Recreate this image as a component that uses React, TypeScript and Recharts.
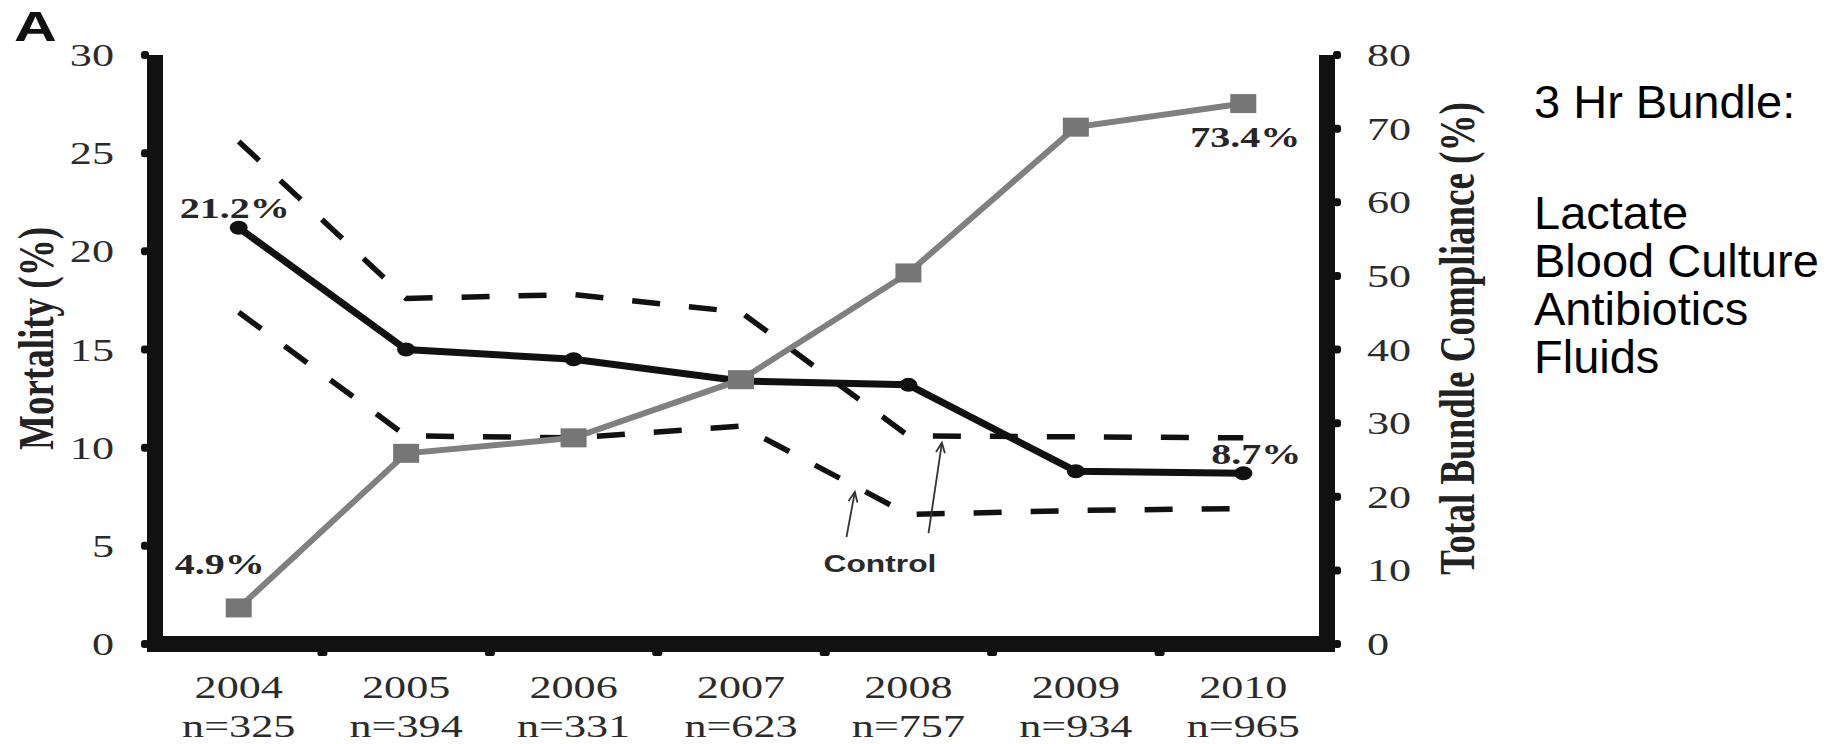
import React from 'react';
import {
  ComposedChart,
  Line,
  XAxis,
  YAxis,
  LabelList,
  ReferenceLine,
  ReferenceDot,
  Label,
} from 'recharts';

// Study years and cohort sizes
const years = [2004, 2005, 2006, 2007, 2008, 2009, 2010];
const sampleSizes = [325, 394, 331, 623, 757, 934, 965];

// Mortality (%) — left axis
const mortality = [21.2, 15.0, 14.5, 13.4, 13.2, 8.8, 8.7];
// Total bundle compliance (%) — right axis
const compliance = [4.9, 25.9, 28.0, 35.9, 50.4, 70.2, 73.4];
// Control band (mortality %, dashed)
const controlUpper = [25.6, 17.6, 17.8, 16.9, 10.6, 10.55, 10.5];
const controlLower = [16.9, 10.6, 10.5, 11.1, 6.6, 6.8, 6.9];

// Axis ticks
const mortalityTicks = [0, 5, 10, 15, 20, 25, 30];
const complianceTicks = [0, 10, 20, 30, 40, 50, 60, 70, 80];
const yearTicks = [2004, 2004.5, 2005, 2005.5, 2006, 2006.5, 2007, 2007.5, 2008, 2008.5, 2009, 2009.5, 2010];

// "Control" annotation arrows (tail -> head, in year / mortality units)
const controlArrows = [
  { from: { x: 2007.63, y: 5.45 }, to: { x: 2007.68, y: 7.75 } },
  { from: { x: 2008.12, y: 5.65 }, to: { x: 2008.2, y: 10.25 } },
];
const controlLabelAt = { x: 2007.83, y: 4.1 };

// Side panel text
const bundleTitle = '3 Hr Bundle:';
const bundleItems = ['Lactate', 'Blood Culture', 'Antibiotics', 'Fluids'];

const table = years.map((year, i) => ({
  year,
  n: sampleSizes[i],
  mortality: mortality[i],
  compliance: compliance[i],
  controlUpper: controlUpper[i],
  controlLower: controlLower[i],
}));

const SERIF = '"Liberation Serif", "Times New Roman", serif';
const SANS = '"Liberation Sans", Arial, sans-serif';
const STRETCH = 1.38;
const INK = '#111';
const TICK_INK = '#2b2b2b';
const GRAY = '#808080';
const GRAY_MARK = '#767676';

const YearTick = (props: any) => {
  const { x, y, payload } = props;
  const v = payload.value;
  if (!Number.isInteger(v)) {
    return <rect x={x - 5} y={y + 6} width={10} height={6} rx={2} fill={INK} />;
  }
  const i = years.indexOf(v);
  return (
    <g transform={`translate(${x},${y}) scale(${STRETCH},1)`}>
      <text textAnchor="middle" fontFamily={SERIF} fontSize={32} fill={TICK_INK}>
        <tspan x={0} y={54}>{v}</tspan>
        <tspan x={0} y={93}>{`n=${sampleSizes[i]}`}</tspan>
      </text>
    </g>
  );
};

const MortTick = (props: any) => {
  const { x, y, payload } = props;
  return (
    <g>
      <rect x={x - 14} y={y - 4} width={8} height={8} rx={3} fill={INK} />
      <text
        transform={`translate(${x - 41},${y + 11}) scale(${STRETCH},1)`}
        textAnchor="end"
        fontFamily={SERIF}
        fontSize={32}
        fill={TICK_INK}
      >
        {payload.value}
      </text>
    </g>
  );
};

const CompTick = (props: any) => {
  const { x, y, payload } = props;
  return (
    <g>
      <rect x={x + 6} y={y - 4} width={8} height={8} rx={3} fill={INK} />
      <text
        transform={`translate(${x + 40},${y + 11}) scale(${STRETCH},1)`}
        textAnchor="start"
        fontFamily={SERIF}
        fontSize={32}
        fill={TICK_INK}
      >
        {payload.value}
      </text>
    </g>
  );
};

const axisTitle = (text: string, baselineDx: number) => (props: any) => {
  const vb = props.viewBox || {};
  const cx = vb.x + baselineDx;
  const cy = vb.y + vb.height / 2 - 11;
  return (
    <text
      transform={`translate(${cx},${cy}) rotate(-90) scale(1,${STRETCH})`}
      textAnchor="middle"
      fontFamily={SERIF}
      fontWeight="bold"
      fontSize={37}
      fill="#222"
    >
      {text}
    </text>
  );
};

const MortDot = (p: any) => (
  <ellipse key={`md-${p.index}`} cx={p.cx} cy={p.cy} rx={9} ry={7} fill={INK} />
);

const CompDot = (p: any) => (
  <rect key={`cd-${p.index}`} x={p.cx - 13} y={p.cy - 9.5} width={26} height={19} fill={GRAY_MARK} />
);

// end-point value labels: [dx, dy] from the point for first and last entries
const endLabel = (first: [number, number], last: [number, number]) => (p: any) => {
  const idx = p.index;
  if (idx !== 0 && idx !== years.length - 1) return null;
  const px = p.x ?? p.viewBox?.x;
  const py = p.y ?? p.viewBox?.y;
  const [dx, dy] = idx === 0 ? first : last;
  return (
    <text
      key={`lb-${idx}`}
      transform={`translate(${px + dx},${py + dy}) scale(${STRETCH},1)`}
      textAnchor="middle"
      fontFamily={SERIF}
      fontWeight="bold"
      fontSize={29}
      fill="#262626"
    >
      {`${Number(p.value).toFixed(1)}%`}
    </text>
  );
};

const ArrowShape = (p: any) => {
  const { x1, y1, x2, y2 } = p;
  const ang = Math.atan2(y2 - y1, x2 - x1);
  const len = 11;
  const spread = 0.42;
  const ax = x2 - len * Math.cos(ang - spread);
  const ay = y2 - len * Math.sin(ang - spread);
  const bx = x2 - len * Math.cos(ang + spread);
  const by = y2 - len * Math.sin(ang + spread);
  return (
    <g>
      <line x1={x1} y1={y1} x2={x2} y2={y2} stroke="#333" strokeWidth={1.8} />
      <polyline points={`${ax},${ay} ${x2},${y2} ${bx},${by}`} fill="none" stroke="#333" strokeWidth={1.8} />
    </g>
  );
};

const ControlText = (p: any) => (
  <text
    transform={`translate(${p.cx},${p.cy + 8}) scale(${STRETCH},1)`}
    textAnchor="middle"
    fontFamily={SANS}
    fontWeight="bold"
    fontSize={23}
    fill="#2a2a2a"
  >
    Control
  </text>
);

const sideLine = (text: string, baseline: number) => (
  <div
    key={text}
    style={{
      position: 'absolute',
      left: 1534,
      top: baseline - 40,
      fontFamily: SANS,
      fontSize: 47,
      lineHeight: '47px',
      color: '#000',
      whiteSpace: 'nowrap',
    }}
  >
    {text}
  </div>
);

export default function App() {
  const itemBaselines = [229, 277, 325, 373];
  return (
    <div style={{ position: 'absolute', left: 0, top: 0, width: 1843, height: 744, background: '#fff', overflow: 'hidden' }}>
      <ComposedChart width={1843} height={744} data={table} margin={{ top: 55, right: 0, bottom: 0, left: 0 }}>
        <XAxis
          dataKey="year"
          type="number"
          domain={[2003.5, 2010.5]}
          ticks={yearTicks}
          interval={0}
          height={100}
          tickSize={0}
          tickMargin={0}
          tickLine={false}
          axisLine={{ stroke: INK, strokeWidth: 16, strokeLinecap: 'square' }}
          tick={<YearTick />}
        />
        <YAxis
          yAxisId="mort"
          orientation="left"
          domain={[0, 30]}
          ticks={mortalityTicks}
          interval={0}
          width={155}
          tickSize={0}
          tickMargin={0}
          tickLine={false}
          axisLine={{ stroke: INK, strokeWidth: 16 }}
          tick={<MortTick />}
        >
          <Label content={axisTitle('Mortality (%)', 53)} />
        </YAxis>
        <YAxis
          yAxisId="comp"
          orientation="right"
          domain={[0, 80]}
          ticks={complianceTicks}
          interval={0}
          width={516}
          tickSize={0}
          tickMargin={0}
          tickLine={false}
          axisLine={{ stroke: INK, strokeWidth: 16 }}
          tick={<CompTick />}
        >
          <Label content={axisTitle('Total Bundle Compliance (%)', 147)} />
        </YAxis>

        <Line
          yAxisId="mort"
          dataKey="controlUpper"
          type="linear"
          stroke={INK}
          strokeWidth={5.5}
          strokeDasharray="28 29"
          dot={false}
          activeDot={false}
          isAnimationActive={false}
        />
        <Line
          yAxisId="mort"
          dataKey="controlLower"
          type="linear"
          stroke={INK}
          strokeWidth={5.5}
          strokeDasharray="28 29"
          dot={false}
          activeDot={false}
          isAnimationActive={false}
        />
        <Line
          yAxisId="mort"
          dataKey="mortality"
          type="linear"
          stroke={INK}
          strokeWidth={7}
          dot={MortDot}
          activeDot={false}
          isAnimationActive={false}
        >
          <LabelList dataKey="mortality" content={endLabel([-4, -10], [13, -9])} />
        </Line>
        <Line
          yAxisId="comp"
          dataKey="compliance"
          type="linear"
          stroke={GRAY}
          strokeWidth={6}
          dot={CompDot}
          activeDot={false}
          isAnimationActive={false}
        >
          <LabelList dataKey="compliance" content={endLabel([-19, -34], [2, 43])} />
        </Line>

        {controlArrows.map((a, i) => (
          <ReferenceLine
            key={`arrow-${i}`}
            yAxisId="mort"
            segment={[a.from, a.to]}
            shape={ArrowShape}
          />
        ))}
        <ReferenceDot yAxisId="mort" x={controlLabelAt.x} y={controlLabelAt.y} r={0} shape={ControlText} />
      </ComposedChart>

      <div
        style={{
          position: 'absolute',
          left: 14,
          top: 5,
          fontFamily: SANS,
          fontWeight: 'bold',
          fontSize: 43,
          lineHeight: '43px',
          transform: `scaleX(${STRETCH})`,
          transformOrigin: 'left top',
          color: '#111',
        }}
      >
        A
      </div>
      {sideLine(bundleTitle, 118)}
      {bundleItems.map((t, i) => sideLine(t, itemBaselines[i]))}
    </div>
  );
}
